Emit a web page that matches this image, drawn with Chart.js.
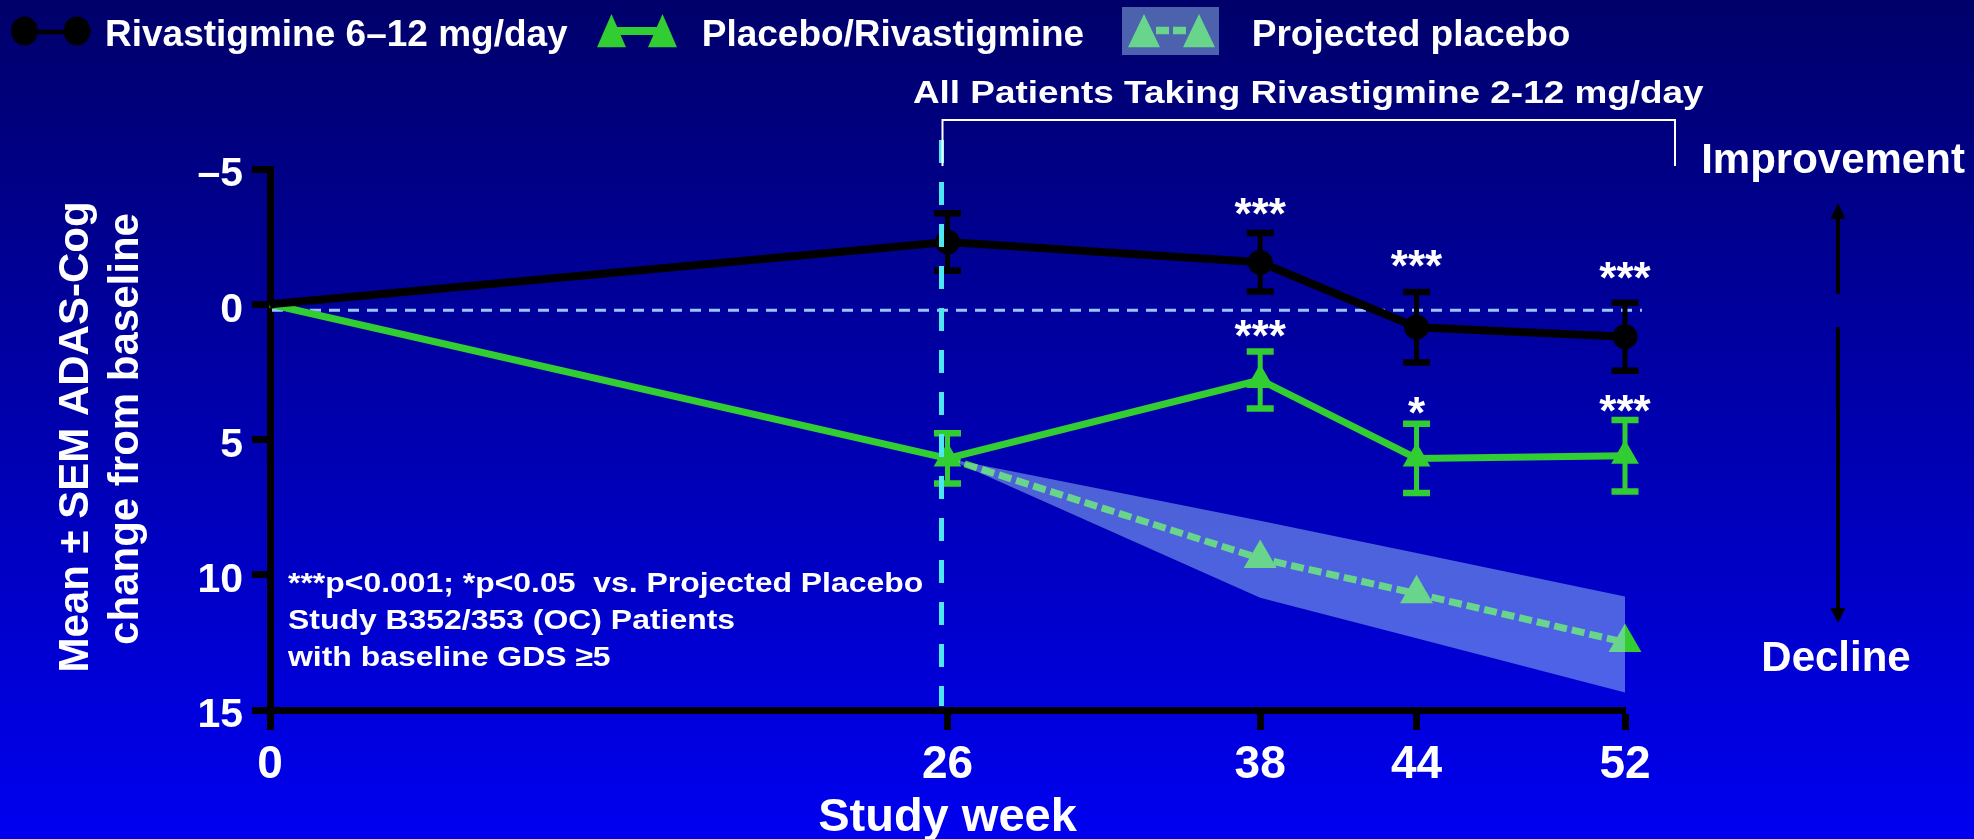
<!DOCTYPE html>
<html>
<head>
<meta charset="utf-8">
<script src="https://cdn.jsdelivr.net/npm/chart.js@4.4.1/dist/chart.umd.min.js"></script>
<style>
  html, body { margin: 0; padding: 0; background: #00006a; }
  canvas { display: block; }
</style>
</head>
<body>
<canvas id="chart" width="1974" height="839"></canvas>
<script>
// ---- data -------------------------------------------------------------
const weeks = [0, 26, 38, 44, 52];
const rivastigmineMean = [0, -2.3, -1.55, 0.85, 1.2];
const rivastigmineSem  = [0, 1.06, 1.08, 1.3, 1.26];
const placeboRivMean   = [0, 5.7, 2.8, 5.7, 5.6];
const placeboRivSem    = [0, 0.93, 1.05, 1.28, 1.32];

const projectedWeeks    = [26, 38, 44, 52];
const projectedMean     = [5.7, 9.4, 10.7, 12.5];
const projectedBandLow  = [5.7, 8.0, 9.2, 10.8];
const projectedBandHigh = [5.7, 10.85, 12.35, 14.35];

const rivastigmineStars = ['', '', '***', '***', '***'];
const placeboRivStars   = ['', '', '***', '*', '***'];

const xTickWeeks  = [0, 26, 38, 44, 52];
const yTickValues = [-5, 0, 5, 10, 15];

const seriesNames = ['Rivastigmine 6\u201312 mg/day', 'Placebo/Rivastigmine', 'Projected placebo'];
const phaseLabel  = 'All Patients Taking Rivastigmine 2-12 mg/day';
const phaseStartWeek = 26;
const baselineGuide = 0.22;
const noteLines = ['***p<0.001; *p<0.05  vs. Projected Placebo', 'Study B352/353 (OC) Patients', 'with baseline GDS \u22655'];
const yTitleLines = ['Mean \u00b1 SEM ADAS-Cog', 'change from baseline'];
const xTitle = 'Study week';
const directionLabels = ['Improvement', 'Decline'];

// ---- styles -----------------------------------------------------------
const FONT = '"Liberation Sans", Arial, Helvetica, sans-serif';
const BLACK = '#000000';
const GREEN = '#32cd32';
const BAND = 'rgba(175, 222, 255, 0.44)';
const CYAN = '#4de6f2';
const GUIDE = '#9cc4ff';
const WHITE = '#ffffff';
// how far (px) each significance mark sits above its error-bar cap
const starLift = { riv: [0, 0, 28, 35, 34], pbo: [0, 0, 25, 20, 18] };

Chart.defaults.font.family = FONT;

const pts = (xs, ys) => xs.map((x, i) => ({ x, y: ys[i] }));

function txt(ctx, s, x, y, size, align = 'left', stretch = 1) {
  ctx.save();
  ctx.font = `bold ${size}px ${FONT}`;
  ctx.fillStyle = WHITE;
  ctx.textBaseline = 'alphabetic';
  ctx.textAlign = align;
  ctx.translate(x, y);
  ctx.scale(stretch, 1);
  ctx.fillText(s, 0, 0);
  ctx.restore();
}

function tri(ctx, cx, top, bottom, half) {
  ctx.beginPath();
  ctx.moveTo(cx, top);
  ctx.lineTo(cx + half, bottom);
  ctx.lineTo(cx - half, bottom);
  ctx.closePath();
  ctx.fill();
}

function arrow(ctx, x, yFrom, yTo, headLen, headHalf) {
  const dir = Math.sign(yTo - yFrom);
  ctx.beginPath();
  ctx.moveTo(x, yFrom);
  ctx.lineTo(x, yTo - dir * headLen);
  ctx.stroke();
  ctx.beginPath();
  ctx.moveTo(x, yTo);
  ctx.lineTo(x - headHalf, yTo - dir * headLen);
  ctx.lineTo(x + headHalf, yTo - dir * headLen);
  ctx.closePath();
  ctx.fill();
}

// ---- plugins ----------------------------------------------------------
const background = {
  id: 'background',
  beforeDraw(chart) {
    const { ctx, width, height } = chart;
    const g = ctx.createLinearGradient(0, 0, 0, height);
    g.addColorStop(0, '#00006a');
    g.addColorStop(1, '#0000f0');
    ctx.save();
    ctx.fillStyle = g;
    ctx.fillRect(0, 0, width, height);
    ctx.restore();
  }
};

const errorBars = {
  id: 'errorBars',
  afterDatasetDraw(chart, args) {
    const ds = chart.data.datasets[args.index];
    if (!ds.sem) return;
    const { ctx } = chart;
    const y = chart.scales.y;
    ctx.save();
    ctx.strokeStyle = ds.borderColor;
    args.meta.data.forEach((pt, i) => {
      const s = ds.sem[i];
      if (!s) return;
      const v = ds.data[i].y;
      const top = y.getPixelForValue(v - s);
      const bot = y.getPixelForValue(v + s);
      ctx.lineWidth = 5;
      ctx.beginPath(); ctx.moveTo(pt.x, top); ctx.lineTo(pt.x, bot); ctx.stroke();
      ctx.lineWidth = 6.5;
      ctx.beginPath();
      ctx.moveTo(pt.x - 13.5, top); ctx.lineTo(pt.x + 13.5, top);
      ctx.moveTo(pt.x - 13.5, bot); ctx.lineTo(pt.x + 13.5, bot);
      ctx.stroke();
    });
    ctx.restore();
  }
};

const decorations = {
  id: 'decorations',
  beforeDatasetsDraw(chart) {
    const { ctx, chartArea: a, scales: { y } } = chart;
    const yy = y.getPixelForValue(baselineGuide);
    ctx.save();
    ctx.strokeStyle = GUIDE;
    ctx.lineWidth = 3;
    ctx.setLineDash([11, 8]);
    ctx.beginPath();
    ctx.moveTo(a.left + 2, yy);
    ctx.lineTo(a.right + 17, yy);
    ctx.stroke();
    ctx.restore();
  },
  afterDatasetsDraw(chart) {
    const { ctx, chartArea: a, scales: { x, y } } = chart;

    // start of open-label phase
    const px = x.getPixelForValue(phaseStartWeek) - 6;
    ctx.save();
    ctx.strokeStyle = CYAN;
    ctx.lineWidth = 5;
    ctx.setLineDash([23, 19]);
    ctx.beginPath();
    ctx.moveTo(px, 140);
    ctx.lineTo(px, a.bottom - 4);
    ctx.stroke();
    ctx.restore();

    // bracket over the open-label phase
    const right = a.right + 50;
    ctx.save();
    ctx.strokeStyle = WHITE;
    ctx.lineWidth = 2;
    ctx.beginPath();
    ctx.moveTo(px + 1, 166); ctx.lineTo(px + 1, 120); ctx.lineTo(right, 120); ctx.lineTo(right, 166);
    ctx.stroke();
    ctx.restore();
    txt(ctx, phaseLabel, (px + right) / 2, 103, 31, 'center', 1.19);

    // significance marks
    [[0, 'riv'], [1, 'pbo']].forEach(([di, key]) => {
      const ds = chart.data.datasets[di];
      const meta = chart.getDatasetMeta(di);
      ds.stars.forEach((s, i) => {
        if (!s) return;
        const capY = y.getPixelForValue(ds.data[i].y - ds.sem[i]);
        const centre = capY - starLift[key][i];
        txt(ctx, s, meta.data[i].x, centre + 24, 44, 'center');
      });
    });

    // footnote
    noteLines.forEach((s, i) => txt(ctx, s, 288, 592 + i * 37.2, 28, 'left', 1.14));
  },
  afterDraw(chart) {
    const { ctx, chartArea: a } = chart;

    // axis titles
    ctx.save();
    ctx.font = `bold 42px ${FONT}`;
    ctx.fillStyle = WHITE;
    ctx.textAlign = 'center';
    ctx.textBaseline = 'alphabetic';
    [[88, 437], [138, 429]].forEach(([bx, cy], i) => {
      ctx.save();
      ctx.translate(bx, cy);
      ctx.rotate(-Math.PI / 2);
      ctx.fillText(yTitleLines[i], 0, 0);
      ctx.restore();
    });
    ctx.restore();
    txt(ctx, xTitle, (a.left + a.right) / 2, 831, 47, 'center');

    // direction key
    txt(ctx, directionLabels[0], 1833, 173, 42, 'center');
    txt(ctx, directionLabels[1], 1836, 671, 42, 'center');
    ctx.save();
    ctx.strokeStyle = BLACK;
    ctx.fillStyle = BLACK;
    ctx.lineWidth = 4;
    arrow(ctx, 1838, 294, 203, 16, 7.5);
    arrow(ctx, 1838, 327, 623, 15, 7.5);
    ctx.restore();

    // legend
    ctx.save();
    ctx.strokeStyle = BLACK; ctx.fillStyle = BLACK; ctx.lineWidth = 4.5;
    ctx.beginPath(); ctx.moveTo(25, 32); ctx.lineTo(77, 32); ctx.stroke();
    [24.5, 77].forEach(cx => { ctx.beginPath(); ctx.ellipse(cx, 31, 13.5, 14.5, 0, 0, Math.PI * 2); ctx.fill(); });

    ctx.strokeStyle = GREEN; ctx.fillStyle = GREEN; ctx.lineWidth = 8;
    ctx.beginPath(); ctx.moveTo(612, 31); ctx.lineTo(662, 31); ctx.stroke();
    tri(ctx, 611.5, 14, 47.3, 14.5);
    tri(ctx, 662.5, 14, 47.3, 14.5);

    ctx.lineWidth = 7.5;
    ctx.setLineDash([13, 4]);
    ctx.beginPath(); ctx.moveTo(1156, 30.5); ctx.lineTo(1188, 30.5); ctx.stroke();
    ctx.setLineDash([]);
    tri(ctx, 1144, 14, 47.3, 16);
    tri(ctx, 1199, 14, 47.3, 16);
    ctx.fillStyle = BAND;
    ctx.fillRect(1122, 7, 97, 48);
    ctx.restore();

    txt(ctx, seriesNames[0], 105, 45.7, 37);
    txt(ctx, seriesNames[1], 701.7, 45.7, 37);
    txt(ctx, seriesNames[2], 1251.7, 45.7, 37);
  }
};

// ---- chart ------------------------------------------------------------
new Chart(document.getElementById('chart'), {
  type: 'line',
  data: {
    datasets: [
      {
        label: seriesNames[0],
        data: pts(weeks, rivastigmineMean),
        sem: rivastigmineSem,
        stars: rivastigmineStars,
        borderColor: BLACK,
        backgroundColor: BLACK,
        borderWidth: 8,
        pointStyle: 'circle',
        pointRadius: weeks.map(w => (w === 0 ? 0 : 12.5)),
        pointBorderWidth: 0,
        clip: false,
        order: 0
      },
      {
        label: seriesNames[1],
        data: pts(weeks, placeboRivMean),
        sem: placeboRivSem,
        stars: placeboRivStars,
        borderColor: GREEN,
        backgroundColor: GREEN,
        borderWidth: 7,
        pointStyle: 'triangle',
        pointRadius: weeks.map(w => (w === 0 ? 0 : 16)),
        pointBorderWidth: 0,
        clip: false,
        order: 1
      },
      {
        label: 'band-high',
        data: pts(projectedWeeks, projectedBandHigh),
        borderWidth: 0,
        pointRadius: 0,
        backgroundColor: BAND,
        fill: 3,
        order: 2
      },
      {
        label: 'band-low',
        data: pts(projectedWeeks, projectedBandLow),
        borderWidth: 0,
        pointRadius: 0,
        fill: false,
        order: 3
      },
      {
        label: seriesNames[2],
        data: pts(projectedWeeks, projectedMean),
        borderColor: GREEN,
        backgroundColor: GREEN,
        borderWidth: 7,
        borderDash: [13, 5],
        pointStyle: 'triangle',
        pointRadius: projectedWeeks.map((w, i) => (i === 0 ? 0 : 19)),
        pointBorderWidth: 0,
        clip: false,
        order: 4
      }
    ]
  },
  options: {
    responsive: false,
    animation: false,
    devicePixelRatio: 1,
    layout: { padding: { top: 169, left: 150, right: 349, bottom: 0 } },
    plugins: { legend: { display: false }, tooltip: { enabled: false } },
    scales: {
      x: {
        type: 'linear',
        min: 0,
        max: 52,
        afterBuildTicks: s => { s.ticks = xTickWeeks.map(v => ({ value: v })); },
        afterFit: s => { s.height = 129; },
        grid: { drawOnChartArea: false, tickLength: 20, tickWidth: 7, color: BLACK },
        border: { display: true, color: BLACK, width: 7 },
        ticks: {
          color: WHITE,
          font: { size: 46, weight: 'bold' },
          padding: 8,
          maxRotation: 0,
          autoSkip: false
        }
      },
      y: {
        type: 'linear',
        reverse: true,
        min: -5,
        max: 15,
        afterBuildTicks: s => { s.ticks = yTickValues.map(v => ({ value: v })); },
        afterFit: s => { s.width = 120; },
        grid: { drawOnChartArea: false, tickLength: 18, tickWidth: 7, color: BLACK },
        border: { display: true, color: BLACK, width: 7 },
        ticks: {
          color: WHITE,
          font: { size: 41, weight: 'bold' },
          padding: 9,
          labelOffset: 6,
          callback: v => (v < 0 ? '\u2013' + Math.abs(v) : String(v))
        }
      }
    }
  },
  plugins: [background, decorations, errorBars]
});
</script>
</body>
</html>
